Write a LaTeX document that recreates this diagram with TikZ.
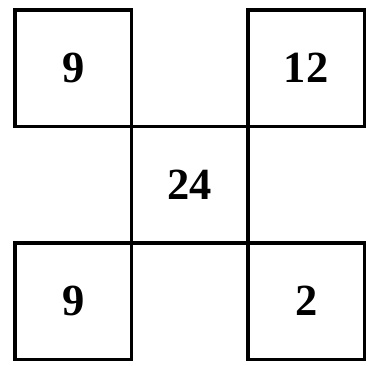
\documentclass[tikz,border=0pt]{standalone}
\usepackage{fontspec}
\setmainfont{Liberation Serif}
\usetikzlibrary{positioning}
\tikzset{
  cellbox/.style={rectangle, draw=black, line width=3pt, minimum size=3.495cm,
                  inner sep=0pt, outer sep=0pt, font=\fontsize{38}{40}\selectfont\bfseries},
}

\begin{document}
\begin{tikzpicture}[x=0.03cm, y=-0.03cm]
\useasboundingbox (0,0) rectangle (368,365);
\node[cellbox] (tl) at (73.25,68.25) {9};
\node[cellbox] (tr) at (306.25,68.25) {12};
\node[cellbox] (mid) at (189.75,184.75) {24};
\node[cellbox] (bl) at (73.25,301.25) {9};
\node[cellbox] (br) at (306.25,301.25) {2};
\end{tikzpicture}
\end{document}
